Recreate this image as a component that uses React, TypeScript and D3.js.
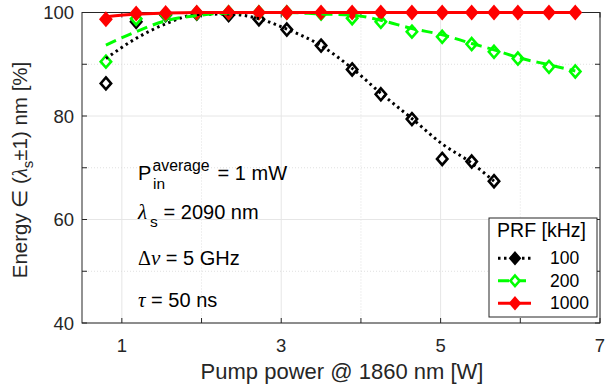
import React from "react";
import * as d3 from "d3";

const xs = [0.80, 1.18, 1.55, 1.94, 2.34, 2.72, 3.07, 3.50, 3.89, 4.25, 4.64, 5.02, 5.39, 5.67, 5.97, 6.36, 6.69];

const prf100 = [86.3, 98.2, 99.5, 99.8, 99.5, 98.7, 96.7, 93.6, 89.0, 84.2, 79.4, 71.7, 71.2, 67.4];
const prf200 = [90.5, 98.8, 99.6, 99.9, 100, 100, 100, 99.8, 98.9, 98.2, 96.3, 95.3, 93.9, 92.4, 91.1, 89.5, 88.6];
const prf1000 = [98.7, 99.8, 99.9, 100, 100, 100, 100, 100, 100, 100, 100, 100, 100, 100, 100, 100, 100];

const fit100 = [91.1, 95.0, 97.8, 99.6, 99.7, 98.8, 96.8, 93.6, 89.2, 84.4, 79.5, 74.6, 70.9, 67.4];
const fit200 = [93.7, 96.3, 98.4, 99.4, 99.9, 100, 100, 99.7, 99.5, 98.5, 96.9, 95.7, 94.0, 92.8, 91.3, 89.9, 88.7];
const fit1000 = [99.2, 99.7, 99.9, 100, 100, 100, 100, 100, 100, 100, 100, 100, 100, 100, 100, 100, 100];

const xMajor = [1, 3, 5, 7];
const xMinor = [2, 4, 6];
const yMajor = [40, 60, 80, 100];
const yMinor = [50, 70, 90];

const legendLabels = ["100", "200", "1000"];

const W = 605, H = 392;
const L = 82, R = 600, T = 12.5, B = 323;
const FONT = "'Liberation Sans', Arial, sans-serif";
const GREEK = "'Liberation Serif', 'DejaVu Serif', serif";

export default function App() {
  const x = d3.scaleLinear().domain([0.5, 7]).range([L, R]);
  const y = d3.scaleLinear().domain([40, 100]).range([B, T]);
  const line = d3.line<number>().curve(d3.curveMonotoneX);

  const series = [
    { vals: prf100, fit: fit100, color: "#000000", dash: "2.5,3.5", fill: "#ffffff", legFill: "#000000" },
    { vals: prf200, fit: fit200, color: "#00ff00", dash: "11,6", fill: "#ffffff", legFill: "#ffffff" },
    { vals: prf1000, fit: fit1000, color: "#ff0000", dash: "", fill: "#ff0000", legFill: "#ff0000" },
  ];

  const diamond = (cx: number, cy: number, s = 5.2) =>
    `M${cx},${cy - s * 1.15}L${cx + s},${cy}L${cx},${cy + s * 1.15}L${cx - s},${cy}Z`;

  const fs = 18.5;
  const afs = 20;
  const legX = 489, legY = 218, legW = 108, legH = 99;

  return (
    <svg width={W} height={H} style={{ position: "absolute", left: 0, top: 0 }} fontFamily={FONT}>
      <rect width={W} height={H} fill="#fff" />
      {/* grid */}
      {xMinor.map((v) => (
        <line key={"gx" + v} x1={x(v)} x2={x(v)} y1={T} y2={B} stroke="#d8d8d8" strokeWidth={0.8} strokeDasharray="1,2" />
      ))}
      {xMajor.map((v) => (
        <line key={"GX" + v} x1={x(v)} x2={x(v)} y1={T} y2={B} stroke="#e6e6e6" strokeWidth={1} />
      ))}
      {yMinor.map((v) => (
        <line key={"gy" + v} x1={L} x2={R} y1={y(v)} y2={y(v)} stroke="#d8d8d8" strokeWidth={0.8} strokeDasharray="1,2" />
      ))}
      {yMajor.map((v) => (
        <line key={"GY" + v} x1={L} x2={R} y1={y(v)} y2={y(v)} stroke="#e6e6e6" strokeWidth={1} />
      ))}
      {/* axes box */}
      <rect x={L} y={T} width={R - L} height={B - T} fill="none" stroke="#262626" strokeWidth={1} />
      {[...xMajor, ...xMinor].map((v) => (
        <g key={"tx" + v}>
          <line x1={x(v)} x2={x(v)} y1={B} y2={B - 5} stroke="#262626" />
          <line x1={x(v)} x2={x(v)} y1={T} y2={T + 5} stroke="#262626" />
        </g>
      ))}
      {[...yMajor, ...yMinor].map((v) => (
        <g key={"ty" + v}>
          <line x1={L} x2={L + 5} y1={y(v)} y2={y(v)} stroke="#262626" />
          <line x1={R} x2={R - 5} y1={y(v)} y2={y(v)} stroke="#262626" />
        </g>
      ))}
      {/* markers */}
      {series.map((s, i) => (
        <g key={"m" + i}>
          {s.vals.map((v, j) => (
            <path key={j} d={diamond(x(xs[j]), y(v))} fill={s.fill} stroke={s.color} strokeWidth={2.6} />
          ))}
        </g>
      ))}
      {/* fit lines */}
      {series.map((s, i) => (
        <path
          key={"l" + i}
          d={line(s.fit.map((v, j) => [x(xs[j]), y(v)]) as any) || ""}
          fill="none"
          stroke={s.color}
          strokeWidth={3}
          strokeDasharray={s.dash || undefined}
        />
      ))}
      {xMajor.map((v) => (
        <text key={"xl" + v} x={x(v)} y={352} textAnchor="middle" fontSize={fs} fill="#262626">{v}</text>
      ))}
      {yMajor.map((v) => (
        <text key={"yl" + v} x={L - 8} y={y(v) + 6.5} textAnchor="end" fontSize={fs} fill="#262626">{v}</text>
      ))}
      <text x={(L + R) / 2 + 1} y={379} textAnchor="middle" fontSize={22} fill="#262626">Pump power @ 1860 nm [W]</text>
      <text transform={`translate(27,170) rotate(-90)`} textAnchor="middle" fontSize={20.5} fill="#262626">
        Energy ∈ (<tspan fontFamily={GREEK} fontStyle="italic">λ</tspan>
        <tspan dy={6} fontSize={15}>s</tspan>
        <tspan dy={-6}>±1) nm [%]</tspan>
      </text>
      {/* annotations */}
      <text x={138} y={179.5} fontSize={afs} fill="#000">
        P<tspan x={153} dy={9.5} fontSize={15.5}>in</tspan>
        <tspan x={152.5} dy={-18} fontSize={15.8}>average</tspan>
        <tspan x={212} dy={8.5}> = 1 mW</tspan>
      </text>
      <text x={138} y={218.5} fontSize={afs} fill="#000">
        <tspan fontFamily={GREEK} fontStyle="italic" fontSize={21}>λ</tspan>
        <tspan x={150} dy={8.5} fontSize={15.5}>s</tspan>
        <tspan x={158} dy={-8.5}> = 2090 nm</tspan>
      </text>
      <text x={138} y={264.5} fontSize={afs} fill="#000">
        <tspan fontFamily={GREEK}>Δ</tspan><tspan fontFamily={GREEK} fontStyle="italic" fontSize={21}>ν</tspan> = 5 GHz
      </text>
      <text x={138} y={306.5} fontSize={afs} fill="#000">
        <tspan fontFamily={GREEK} fontStyle="italic" fontSize={21}>τ</tspan> = 50 ns
      </text>
      {/* legend */}
      <rect x={legX} y={legY} width={legW} height={legH} fill="#fff" stroke="#262626" strokeWidth={1} />
      <text x={541.5} y={236.5} textAnchor="middle" fontSize={19.5} fill="#000">PRF [kHz]</text>
      {series.map((s, i) => {
        const cy = 258.3 + i * 22.5;
        return (
          <g key={"lg" + i}>
            <line x1={498} x2={531} y1={cy} y2={cy} stroke={s.color} strokeWidth={3} strokeDasharray={s.dash || undefined} />
            <path d={diamond(515, cy, 4.6)} fill={s.legFill} stroke={s.color} strokeWidth={2.6} />
            <text x={550} y={cy + 6} fontSize={17.5} fill="#000">{legendLabels[i]}</text>
          </g>
        );
      })}
    </svg>
  );
}
